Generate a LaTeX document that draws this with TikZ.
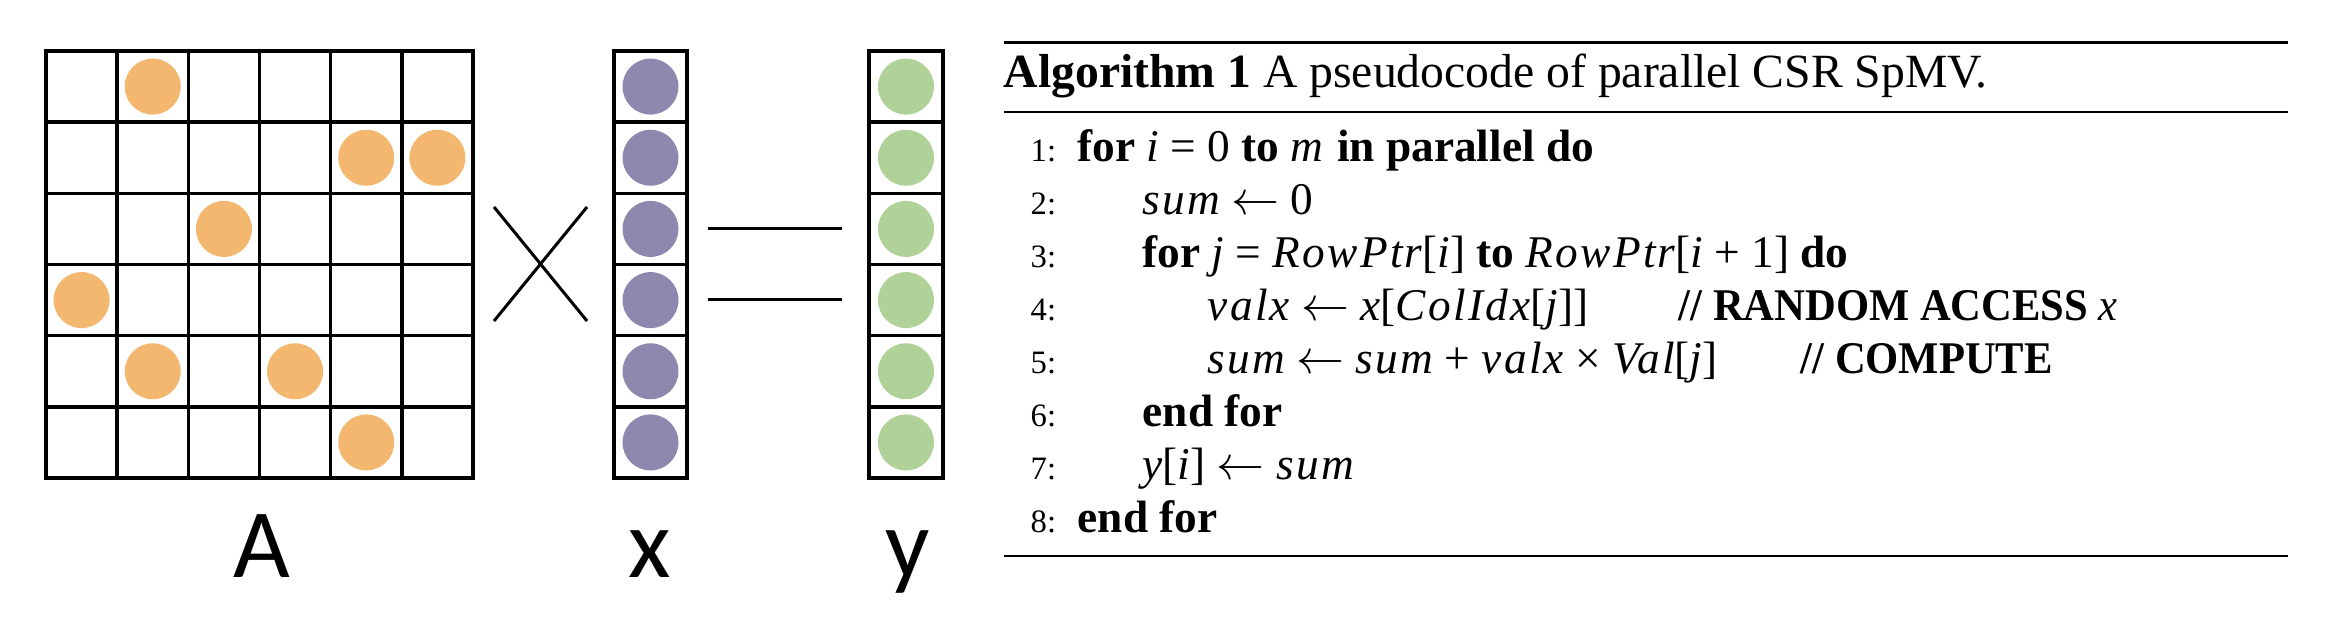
\documentclass[tikz,border=0pt]{standalone}
\usepackage{fontspec}
\usepackage{graphicx}
\setmainfont{Liberation Serif}
\newfontfamily\lblfont{Carlito}
\definecolor{dotA}{HTML}{F3B76F}
\definecolor{dotX}{HTML}{8E87AE}
\definecolor{dotY}{HTML}{B0D298}
\newcommand\mv[1]{{\addfontfeature{LetterSpace=5}\itshape #1}}
\newcommand\kw[1]{\textbf{#1}}
\newcommand\getsto{$\leftarrow$}
\newcommand\cmt[1]{\scalebox{0.94}[1]{#1}}
\begin{document}
\begin{tikzpicture}[x=0.3pt,y=-0.3pt,
  gridline/.style={line width=1.05pt, line cap=rect},
  thinline/.style={line width=0.9pt},
  dot/.style={circle, inner sep=0pt, minimum size=16.8pt},
  lbl/.style={font=\lblfont\fontsize{29.4}{35}\selectfont, inner sep=0pt, anchor=base},
  algtext/.style={font=\fontsize{13.6}{16}\selectfont, inner sep=0pt, anchor=base west},
  captext/.style={font=\fontsize{14.3}{17}\selectfont, inner sep=0pt, anchor=base west},
  lnum/.style={font=\fontsize{9.8}{12}\selectfont, inner sep=0pt, anchor=base west},
  rulethick/.style={line width=1pt},
  rulethin/.style={line width=0.6pt}
]
\useasboundingbox (0,0) rectangle (2334,624);

% matrix A
\foreach \i in {0,...,6}{
  \draw[gridline] ({46+71.17*\i},51) -- ({46+71.17*\i},478);
  \draw[gridline] (46,{51+71.17*\i}) -- (473,{51+71.17*\i});
}
\foreach \r/\c [count=\k] in {0/1,1/4,1/5,2/2,3/0,4/1,4/3,5/4}
  \node[dot, fill=dotA] (a\k) at ({46+71.17*(\c+0.5)},{51+71.17*(\r+0.5)}) {};

% vector x
\draw[gridline] (614,51) rectangle (687,478);
\foreach \i in {1,...,5} \draw[gridline] (614,{51+71.17*\i}) -- (687,{51+71.17*\i});
\foreach \i in {0,...,5} \node[dot, fill=dotX] (x\i) at (650.5,{51+71.17*(\i+0.5)}) {};

% vector y
\draw[gridline] (869,51) rectangle (943,478);
\foreach \i in {1,...,5} \draw[gridline] (869,{51+71.17*\i}) -- (943,{51+71.17*\i});
\foreach \i in {0,...,5} \node[dot, fill=dotY] (y\i) at (906,{51+71.17*(\i+0.5)}) {};

% times and equals signs
\draw[thinline] (494,207) -- (587,321);
\draw[thinline] (587,207) -- (494,321);
\draw[thinline] (708,229) -- (842,229);
\draw[thinline] (708,300) -- (842,300);

% labels
\node[lbl] (labA) at (262,578) {A};
\node[lbl] (labx) at (650,578) {x};
\node[lbl] (laby) at (908,578) {y};

% algorithm
\draw[rulethick] (1004,42.5) -- (2288,42.5);
\draw[rulethin] (1004,112.5) -- (2288,112.5);
\draw[rulethin] (1004,556) -- (2288,556);

\node[captext] (cap) at (1003,88) {\kw{Algorithm 1} A pseudocode of parallel CSR SpMV.};

\node[lnum] (n1) at (1030,161.7) {1:};
\node[lnum] (n2) at (1030,214.75) {2:};
\node[lnum] (n3) at (1030,267.8) {3:};
\node[lnum] (n4) at (1030,320.9) {4:};
\node[lnum] (n5) at (1030,373.9) {5:};
\node[lnum] (n6) at (1030,427) {6:};
\node[lnum] (n7) at (1030,480) {7:};
\node[lnum] (n8) at (1030,533) {8:};

\node[algtext] (l1) at (1077,161.7) {\kw{for} \mv{i} = 0 \kw{to} \mv{m} \kw{in parallel do}};
\node[algtext] (l2) at (1142,214.75) {\mv{sum} \getsto{} 0};
\node[algtext] (l3) at (1142,267.8) {\kw{for} \mv{j} = \mv{RowPtr}[\mv{i}] \kw{to} \mv{RowPtr}[\mv{i} + 1] \kw{do}};
\node[algtext] (l4) at (1207,320.9) {\mv{valx} \getsto{} \mv{x}[\mv{ColIdx}[\mv{j}]]};
\node[algtext] (c4) at (1678,320.9) {\cmt{\kw{// RANDOM ACCESS} \mv{x}}};
\node[algtext] (l5) at (1207,373.9) {\mv{sum} \getsto{} \mv{sum} + \mv{valx} × \mv{Val}[\mv{j}]};
\node[algtext] (c5) at (1800,373.9) {\cmt{\kw{// COMPUTE}}};
\node[algtext] (l6) at (1142,427) {\kw{end for}};
\node[algtext] (l7) at (1142,480) {\mv{y}[\mv{i}] \getsto{} \mv{sum}};
\node[algtext] (l8) at (1077,533) {\kw{end for}};
\end{tikzpicture}
\end{document}
